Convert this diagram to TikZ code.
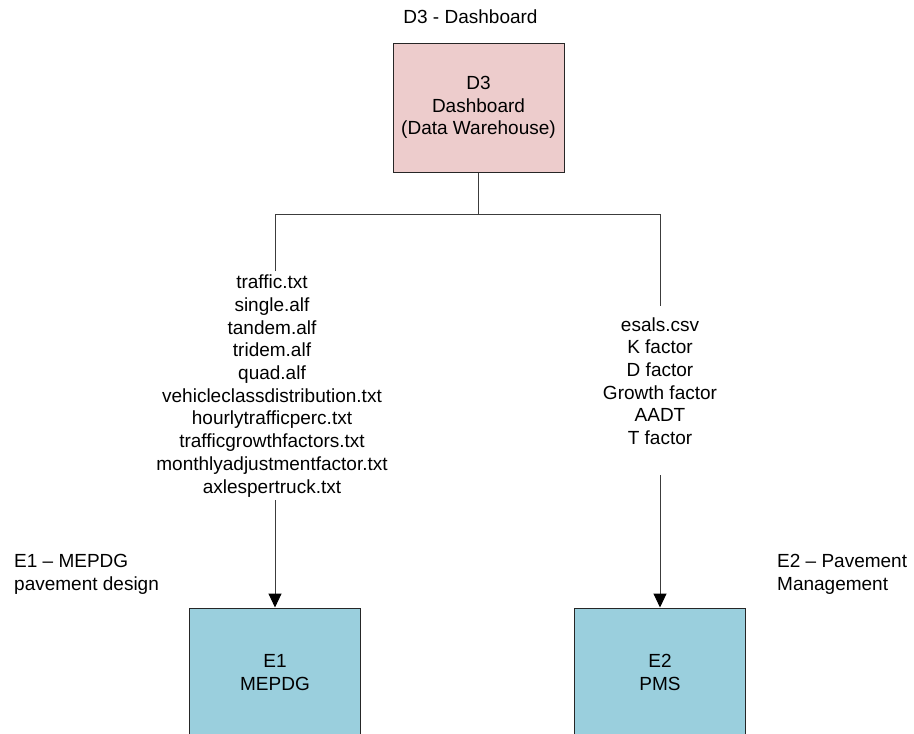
\documentclass[tikz,border=0pt]{standalone}
\usepackage{fontspec}
\setmainfont{Liberation Sans}
\usetikzlibrary{arrows.meta}
\definecolor{pinkfill}{RGB}{237,204,204}
\definecolor{bluefill}{RGB}{154,207,221}
\definecolor{lineclr}{RGB}{60,60,60}
\tikzset{
  x=1pt, y=-1pt,
  txt/.style={font=\fontsize{19}{22.7}\selectfont, inner sep=0pt, text=black},
  boxnode/.style={draw=black!85, line width=1pt, minimum width=171pt, minimum height=129pt, align=center, font=\fontsize{19}{22.7}\selectfont, text=black},
  conn/.style={draw=lineclr, line width=1pt},
  arrowconn/.style={conn, -{Triangle[width=13pt,length=14pt,fill=black,color=black]}},
}
\begin{document}
\begin{tikzpicture}
\useasboundingbox (0,0) rectangle (914,734);
\fill[white] (0,0) rectangle (914,734);

\node[txt] (title) at (470.5,17) {D3 - Dashboard};
\node[boxnode, fill=pinkfill] (d3) at (478.5,107.5) {D3\\Dashboard\\(Data Warehouse)};
\node[boxnode, fill=bluefill] (e1) at (275,672.5) {E1\\MEPDG};
\node[boxnode, fill=bluefill] (e2) at (660,672.5) {E2\\PMS};

\node[txt, align=center] (lefttext) at (272,386) {traffic.txt\\single.alf\\tandem.alf\\tridem.alf\\quad.alf\\vehicleclassdistribution.txt\\hourlytrafficperc.txt\\trafficgrowthfactors.txt\\monthlyadjustmentfactor.txt\\axlespertruck.txt};
\node[txt, align=center] (righttext) at (660,381) {esals.csv\\K factor\\D factor\\Growth factor\\AADT\\T factor};

\node[txt, align=left, anchor=west] (e1label) at (14,574.5) {E1 -- MEPDG\\pavement design};
\node[txt, align=left, anchor=west] (e2label) at (777,574.5) {E2 -- Pavement\\Management};

\coordinate (hub) at (478.5,214);
\coordinate (jl) at (275,214);
\coordinate (jr) at (660,214);
\coordinate (el) at (275,271);
\coordinate (er) at (660,306);
\coordinate (sl) at (275,500);
\coordinate (sr) at (660,475);

\draw[conn] (d3.south) -- (hub);
\draw[conn] (el) -- (jl) -- (jr) -- (er);
\draw[arrowconn] (sl) -- (e1.north);
\draw[arrowconn] (sr) -- (e2.north);
\end{tikzpicture}
\end{document}
